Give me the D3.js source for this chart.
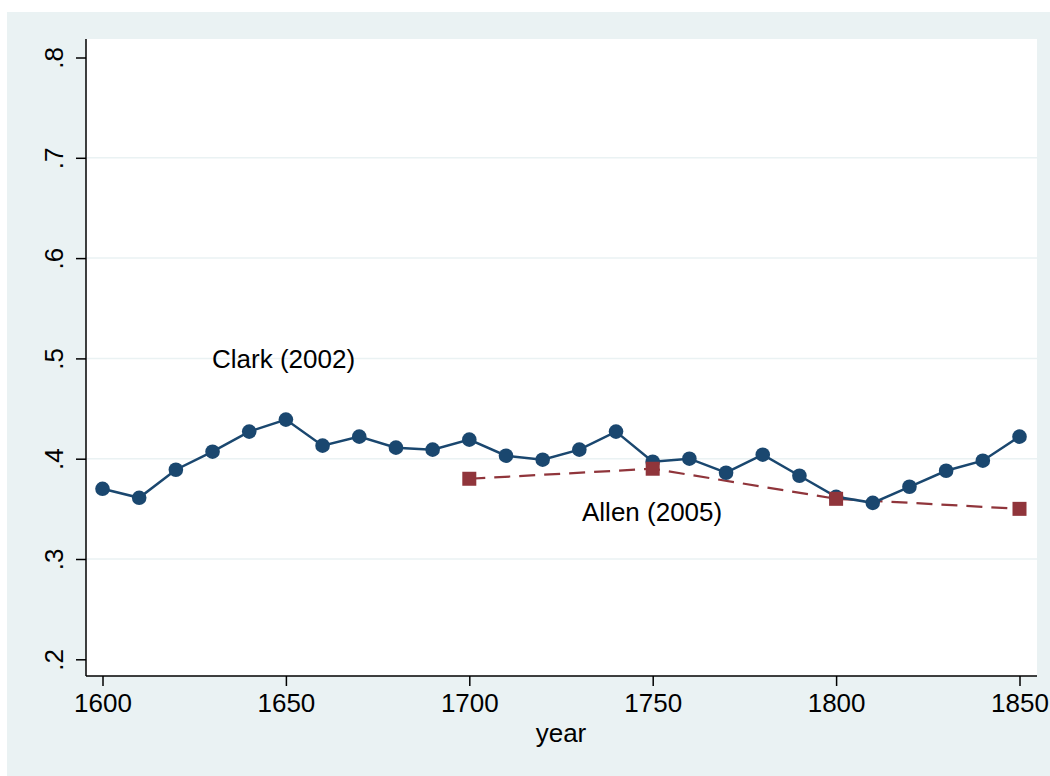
<!DOCTYPE html>
<html><head><meta charset="utf-8">
<script src="https://cdn.jsdelivr.net/npm/d3@7"></script>
<style>body{margin:0;background:#fff}svg{display:block}text{font-family:"Liberation Sans",Arial,sans-serif;fill:#000}</style>
</head><body><svg id="c" width="1050" height="776"></svg>
<script>
const clarkYears = [1600,1610,1620,1630,1640,1650,1660,1670,1680,1690,1700,1710,1720,1730,1740,1750,1760,1770,1780,1790,1800,1810,1820,1830,1840,1850];
const clarkValues = [0.370,0.361,0.389,0.407,0.427,0.439,0.413,0.422,0.411,0.409,0.419,0.403,0.399,0.409,0.427,0.397,0.400,0.386,0.404,0.383,0.362,0.356,0.372,0.388,0.398,0.422];
const allenYears = [1700,1750,1800,1850];
const allenValues = [0.380,0.390,0.360,0.350];
const xTicks = [1600,1650,1700,1750,1800,1850];
const yTicks = [0.2,0.3,0.4,0.5,0.6,0.7,0.8];
const yTickLabels = [".2",".3",".4",".5",".6",".7",".8"];
const yGrid = [0.3,0.4,0.5,0.6,0.7];

const svg = d3.select("#c");
svg.append("rect").attr("x",7).attr("y",12).attr("width",1043).attr("height",764).attr("fill","#eaf2f3");
const pl=86, pr=1037, pt=39, pb=676;
svg.append("rect").attr("x",pl).attr("y",pt).attr("width",pr-pl).attr("height",pb-pt).attr("fill","#fff");

const x = d3.scaleLinear().domain([1600,1850]).range([102.5,1019.5]);
const y = d3.scaleLinear().domain([0.2,0.8]).range([659.3,57.5]);

svg.append("g").selectAll("line").data(yGrid).join("line")
  .attr("x1",pl+1).attr("x2",pr).attr("y1",d=>y(d)).attr("y2",d=>y(d))
  .attr("stroke","#eaf2f3").attr("stroke-width",1.5);

// y axis
const yAxis = d3.axisLeft(y).tickValues(yTicks).tickSize(10).tickFormat((d,i)=>yTickLabels[i]);
const gy = svg.append("g").attr("transform",`translate(${pl},0)`).call(yAxis);
gy.select(".domain").attr("d",`M0,${pt}V${pb}`).attr("stroke","#000").attr("stroke-width",1.5);
gy.selectAll(".tick line").attr("stroke","#000").attr("stroke-width",1.5);
gy.selectAll(".tick text").attr("font-size",26).attr("font-family","Liberation Sans, Arial, sans-serif")
  .attr("x",0).attr("dy",0).attr("text-anchor","middle")
  .attr("transform","translate(-23,0) rotate(-90)").attr("y",0);

// x axis
const xAxis = d3.axisBottom(x).tickValues(xTicks).tickSize(10).tickFormat(d3.format("d"));
const gx = svg.append("g").attr("transform",`translate(0,${pb})`).call(xAxis);
gx.select(".domain").attr("d",`M${pl},0H${pr}`).attr("stroke","#000").attr("stroke-width",1.5);
gx.selectAll(".tick line").attr("stroke","#000").attr("stroke-width",1.5);
gx.selectAll(".tick text").attr("font-size",26).attr("font-family","Liberation Sans, Arial, sans-serif")
  .attr("y",36).attr("dy",0);

svg.append("text").attr("x",561).attr("y",742).attr("text-anchor","middle").attr("font-size",26).text("year");

// Allen dashed
const allen = allenYears.map((d,i)=>[d,allenValues[i]]);
svg.append("path").datum(allen).attr("fill","none").attr("stroke","#90353b").attr("stroke-width",2.2)
  .attr("stroke-dasharray","16,9").attr("d",d3.line().x(d=>x(d[0])).y(d=>y(d[1])));
// Clark line
const clark = clarkYears.map((d,i)=>[d,clarkValues[i]]);
svg.append("path").datum(clark).attr("fill","none").attr("stroke","#1a476f").attr("stroke-width",2.5)
  .attr("d",d3.line().x(d=>x(d[0])).y(d=>y(d[1])));
svg.append("g").selectAll("circle").data(clark).join("circle")
  .attr("cx",d=>x(d[0])).attr("cy",d=>y(d[1])).attr("r",7.3).attr("fill","#1a476f");
const s=14;
svg.append("g").selectAll("rect").data(allen).join("rect")
  .attr("x",d=>x(d[0])-s/2).attr("y",d=>y(d[1])-s/2).attr("width",s).attr("height",s).attr("fill","#90353b");

svg.append("text").attr("x",212).attr("y",368).attr("font-size",26).text("Clark (2002)");
svg.append("text").attr("x",582).attr("y",521).attr("font-size",26).text("Allen (2005)");
</script></body></html>
